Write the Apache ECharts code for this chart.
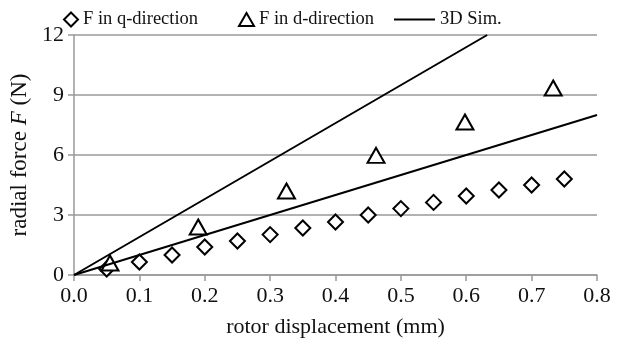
<!DOCTYPE html>
<html>
<head>
<meta charset="utf-8">
<script src="https://cdn.jsdelivr.net/npm/echarts@6/dist/echarts.min.js"></script>
<style>html,body{margin:0;padding:0;background:#fff}#chart{width:629px;height:345px}</style>
</head>
<body>
<div id="chart"></div>
<script>
// q-direction measurements
const qX = [0.05, 0.1, 0.15, 0.2, 0.25, 0.3, 0.35, 0.4, 0.45, 0.5, 0.55, 0.6, 0.65, 0.7, 0.75];
const qF = [0.3, 0.65, 1.0, 1.4, 1.7, 2.02, 2.35, 2.65, 3.0, 3.32, 3.63, 3.95, 4.25, 4.5, 4.8];
// d-direction measurements
const dX = [0.055, 0.19, 0.325, 0.462, 0.598, 0.733];
const dF = [0.6, 2.4, 4.2, 5.98, 7.65, 9.35];
// 3D sim lines (end points)
const simSteep = [[0, 0], [0.632, 12]];
const simFlat = [[0, 0], [0.8, 8]];
const xTicks = ['0.0', '0.1', '0.2', '0.3', '0.4', '0.5', '0.6', '0.7', '0.8'];

const font = 'Liberation Serif';
const chart = echarts.init(document.getElementById('chart'));
const legendText = { fontFamily: font, fontSize: 18.5, color: '#111' };

const option = {
  backgroundColor: '#fff',
  animation: false,
  grid: { left: 74, right: 32, top: 35, bottom: 70 },
  legend: [
    { data: ['F in q-direction'], left: 58, top: 5, itemWidth: 14, itemHeight: 14, textStyle: legendText },
    { data: ['F in d-direction'], left: 233, top: 5, itemWidth: 15, itemHeight: 13, textStyle: legendText },
    { data: [{ name: '3D Sim.', icon: 'rect' }], left: 389, top: 5, itemWidth: 41, itemHeight: 2, textStyle: legendText }
  ],
  xAxis: {
    type: 'value', min: 0, max: 0.8, interval: 0.1,
    name: 'rotor displacement (mm)', nameLocation: 'middle', nameGap: 41,
    nameTextStyle: { fontFamily: font, fontSize: 22, color: '#111' },
    axisLine: { lineStyle: { color: '#999', width: 1.5 } },
    axisTick: { show: true, length: 6, lineStyle: { color: '#999', width: 1.5 } },
    axisLabel: { fontFamily: font, fontSize: 22, color: '#111', margin: 10,
      formatter: v => xTicks[Math.round(v * 10)] },
    splitLine: { show: false }
  },
  yAxis: {
    type: 'value', min: 0, max: 12, interval: 3,
    name: '{n|radial force }{i|F}{n| (N)}', nameLocation: 'middle', nameGap: 28,
    nameTextStyle: { rich: {
      n: { fontFamily: font, fontSize: 23, color: '#111' },
      i: { fontFamily: font, fontSize: 23, color: '#111', fontStyle: 'italic' } } },
    axisLine: { show: true, lineStyle: { color: '#999', width: 1.5 } },
    axisTick: { show: true, length: 6, lineStyle: { color: '#999', width: 1.5 } },
    axisLabel: { fontFamily: font, fontSize: 22, color: '#111', margin: 10 },
    splitLine: { lineStyle: { color: '#999', width: 1.5 } }
  },
  series: [
    {
      name: '3D Sim.', type: 'line', data: simSteep, symbol: 'none',
      lineStyle: { color: '#000', width: 2 }, itemStyle: { color: '#000' }
    },
    {
      name: '3D Sim.', type: 'line', data: simFlat, symbol: 'none',
      lineStyle: { color: '#000', width: 2 }, itemStyle: { color: '#000' }
    },
    {
      name: 'F in q-direction', type: 'scatter', symbol: 'diamond', symbolSize: 15,
      data: qX.map((x, i) => [x, qF[i]]),
      itemStyle: { color: '#fff', borderColor: '#000', borderWidth: 2, opacity: 1 }
    },
    {
      name: 'F in d-direction', type: 'scatter', symbol: 'triangle', symbolSize: [17, 15],
      data: dX.map((x, i) => [x, dF[i]]),
      itemStyle: { color: '#fff', borderColor: '#000', borderWidth: 2, opacity: 1 }
    }
  ]
};
chart.setOption(option);
</script>
</body>
</html>
